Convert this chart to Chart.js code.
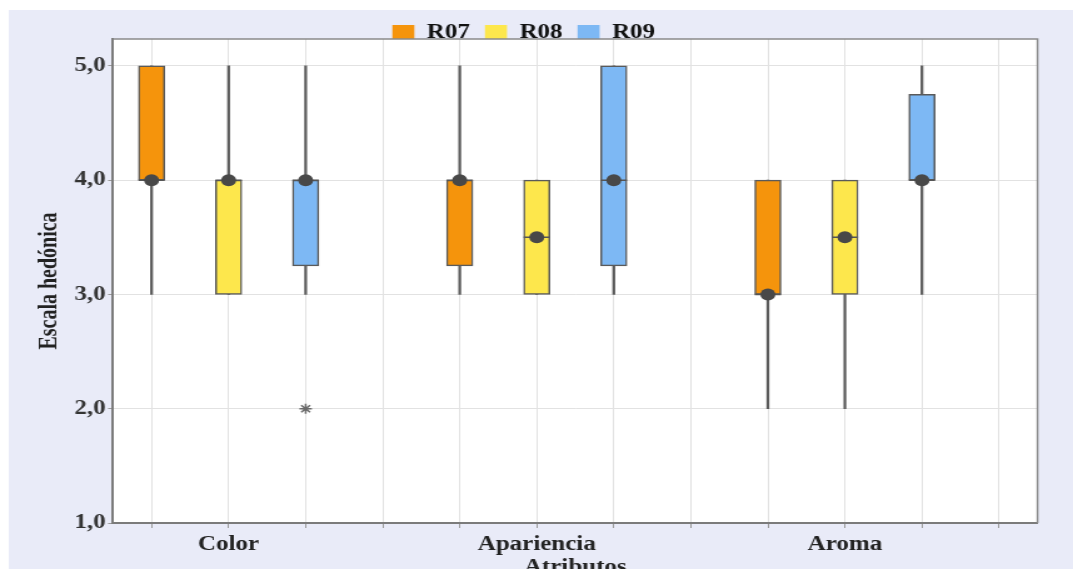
<!DOCTYPE html>
<html>
<head>
<meta charset="utf-8">
<title>Escala hedónica por atributo</title>
<script src="https://cdn.jsdelivr.net/npm/chart.js@4.4.1/dist/chart.umd.min.js"></script>
<style>
  html, body { margin: 0; padding: 0; background: #fff; }
  /* the source picture is stretched sideways, so draw it narrow and widen it */
  #wrap { width: 858px; height: 569px; transform: scaleX(1.2506); transform-origin: 0 0; }
  canvas { display: block; }
</style>
</head>
<body>
<div id="wrap"><canvas id="boxChart" width="858" height="569"></canvas></div>
<script>
// Data, indexed [series][category]
const categories = ['Color', 'Apariencia', 'Aroma'];
const seriesNames = ['R07', 'R08', 'R09'];
const seriesColors = ['#f5940c', '#fde74c', '#7db8f4'];

const lowWhisker  = [[3, 3, 2], [3, 3, 2], [3, 3, 3]];
const q1          = [[4, 3.25, 3], [3, 3, 3], [3.25, 3.25, 4]];
const medians     = [[4, 4, 3], [4, 3.5, 3.5], [4, 4, 4]];
const q3          = [[5, 4, 4], [4, 4, 4], [4, 5, 4.75]];
const highWhisker = [[5, 5, 4], [5, 4, 4], [5, 5, 5]];
const outliers    = [[[], [], []], [[], [], []], [[2], [], []]];

const yTicks = [1, 2, 3, 4, 5];
const yMin = 1;
const yMax = 5.235;

// one slot per box plus an empty slot after each category
const slotsPerCategory = seriesNames.length + 1;
const slotCount = categories.length * slotsPerCategory;
const labelSlot = Math.floor(seriesNames.length / 2);
const slotOf = (s, c) => c * slotsPerCategory + s;

const FONT = "'Liberation Serif', 'Times New Roman', serif";
const boldFont = { family: FONT, size: 20, weight: 'bold' };

const whiskerData = [];
const medianData = [];
const outlierData = [];
seriesNames.forEach((name, s) => {
  categories.forEach((cat, c) => {
    whiskerData.push({ x: slotOf(s, c), y: [lowWhisker[s][c], highWhisker[s][c]] });
    medianData.push({ x: slotOf(s, c), y: medians[s][c] });
    outliers[s][c].forEach(v => outlierData.push({ x: slotOf(s, c), y: v }));
  });
});

const boxSets = seriesNames.map((name, s) => ({
  type: 'bar',
  label: name,
  data: categories.map((cat, c) => ({ x: slotOf(s, c), y: [q1[s][c], q3[s][c]] })),
  backgroundColor: seriesColors[s],
  borderColor: '#5a5a5a',
  borderWidth: 1.5,
  borderSkipped: false,
  barThickness: 21,
  grouped: false,
  order: 2
}));

// page background, white plot area and the top/right frame
const frame = {
  id: 'frame',
  beforeDraw(chart) {
    const { ctx, width, height, chartArea: a } = chart;
    ctx.save();
    ctx.fillStyle = '#fff';
    ctx.fillRect(0, 0, width, height);
    ctx.fillStyle = '#e9ebf8';
    ctx.fillRect(7, 10, width - 7, height - 10);
    ctx.fillStyle = '#fff';
    ctx.fillRect(a.left, a.top, a.right - a.left, a.bottom - a.top);
    ctx.restore();
  },
  beforeDatasetsDraw(chart) {
    const { ctx, chartArea: a } = chart;
    ctx.save();
    ctx.strokeStyle = '#8a8a8a';
    ctx.lineWidth = 1.5;
    ctx.beginPath();
    ctx.moveTo(a.left, a.top);
    ctx.lineTo(a.right, a.top);
    ctx.lineTo(a.right, a.bottom);
    ctx.stroke();
    ctx.restore();
  }
};

// legend sits on the plot's top edge, so let it overlap
const legendOverlap = {
  id: 'legendOverlap',
  beforeInit(chart) {
    const fit = chart.legend.fit;
    chart.legend.fit = function () {
      fit.call(this);
      this.height -= 13.5;
    };
  }
};

new Chart(document.getElementById('boxChart'), {
  type: 'bar',
  data: {
    datasets: [
      {
        type: 'bar',
        label: 'whisker',
        data: whiskerData,
        backgroundColor: '#5b5b5b',
        borderWidth: 0,
        barThickness: 1.6,
        grouped: false,
        order: 3
      },
      ...boxSets,
      {
        type: 'scatter',
        label: 'medianLine',
        data: medianData,
        pointStyle: 'line',
        pointRadius: 10.5,
        borderColor: '#555',
        borderWidth: 1.5,
        order: 1
      },
      {
        type: 'scatter',
        label: 'median',
        data: medianData,
        pointStyle: 'circle',
        pointRadius: 6,
        backgroundColor: '#484848',
        borderWidth: 0,
        order: 0
      },
      {
        type: 'scatter',
        label: 'outlier',
        data: outlierData,
        pointStyle: 'star',
        pointRadius: 5,
        borderColor: '#6a6a6a',
        borderWidth: 1.5,
        order: 0
      }
    ]
  },
  options: {
    responsive: false,
    animation: false,
    events: [],
    layout: { padding: { top: 10.5, left: 8, right: 28.4, bottom: 0 } },
    plugins: {
      tooltip: { enabled: false },
      legend: {
        position: 'top',
        labels: {
          boxWidth: 17.6,
          boxHeight: 15,
          padding: 12,
          color: '#111',
          font: boldFont,
          generateLabels(chart) {
            return Chart.defaults.plugins.legend.labels.generateLabels(chart)
              .filter(item => seriesNames.includes(item.text))
              .map(item => Object.assign(item, { lineWidth: 0, strokeStyle: item.fillStyle }));
          }
        }
      }
    },
    scales: {
      x: {
        type: 'linear',
        min: -0.5,
        max: slotCount - 0.5,
        offset: false,
        afterBuildTicks: s => { s.ticks = Array.from({ length: slotCount }, (_, i) => ({ value: i })); },
        afterFit: s => { s.height = 46; },
        ticks: {
          autoSkip: false,
          maxRotation: 0,
          padding: 5,
          color: '#222',
          font: boldFont,
          callback: v => {
            const c = categories.findIndex((_, i) => slotOf(labelSlot, i) === v);
            return c >= 0 ? categories[c] : '';
          }
        },
        grid: { offset: false, color: '#e2e2e2', lineWidth: 1, tickLength: 5, tickColor: '#9a9a9a' },
        border: { color: '#7b7b7b', width: 2 },
        title: { display: true, text: 'Atributos', color: '#222', font: boldFont, padding: { top: 0, bottom: -11 } }
      },
      y: {
        min: yMin,
        max: yMax,
        afterBuildTicks: s => { s.ticks = yTicks.map(v => ({ value: v })); },
        afterFit: s => { s.width = 82.4; },
        ticks: {
          padding: 2,
          color: '#333',
          font: boldFont,
          callback: v => v.toFixed(1).replace('.', ',')
        },
        grid: { color: '#e2e2e2', tickLength: 4, tickColor: '#9a9a9a' },
        border: { color: '#7b7b7b', width: 2 },
        title: { display: true, text: 'Escala hedónica', color: '#222', font: boldFont, padding: { top: 20, bottom: 0 } }
      }
    }
  },
  plugins: [frame, legendOverlap]
});
</script>
</body>
</html>
